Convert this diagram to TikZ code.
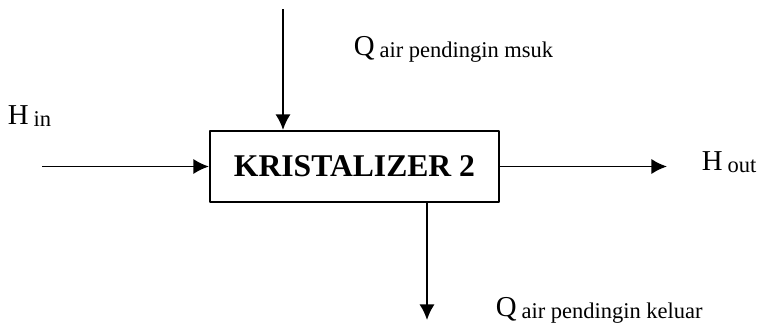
\documentclass[tikz,border=0pt]{standalone}
\usepackage{fontspec}
\setmainfont{Liberation Serif}
\usetikzlibrary{arrows.meta}
\begin{document}
\begin{tikzpicture}[line join=round, line width=1.3pt, >={Latex[length=3.9mm,width=3.8mm]},
  lbl/.style={anchor=base west, inner sep=0pt}]
% ukuran huruf
\def\big{\fontsize{20.5}{24}\selectfont}
\def\sub#1{\,\raisebox{-0.07cm}{\fontsize{16}{18}\selectfont #1}}
\useasboundingbox (0,0) rectangle (19.05,8.1);
% Kotak kristalizer
\node[draw, line width=1.5pt, minimum width=7.225cm, minimum height=1.775cm, inner sep=0pt]
  (kr) at (8.8625,3.9375) {\fontsize{22.5}{26}\selectfont\bfseries KRISTALIZER 2};
% Ujung aliran
\coordinate (hin) at (1.05,3.9375);
\coordinate (hout) at (16.675,3.9375);
\coordinate (qin) at (7.075,7.875);
\coordinate (qout) at (10.675,0.1);
% Aliran panas
\draw[->] (hin) -- (kr.west);
\draw[->] (kr.east) -- (hout);
\draw[->] (qin) -- (qin |- kr.north);
\draw[->] (qout |- kr.south) -- (qout);
% Label
\node[lbl] (lhin) at (0.175,5.0) {\big H\sub{in}};
\node[lbl] (lhout) at (17.525,3.85) {\big H\sub{out}};
\node[lbl] (lqin) at (8.825,6.725) {\big Q\sub{air pendingin msuk}};
\node[lbl] (lqout) at (12.375,0.2) {\big Q\sub{air pendingin keluar}};
\end{tikzpicture}
\end{document}
